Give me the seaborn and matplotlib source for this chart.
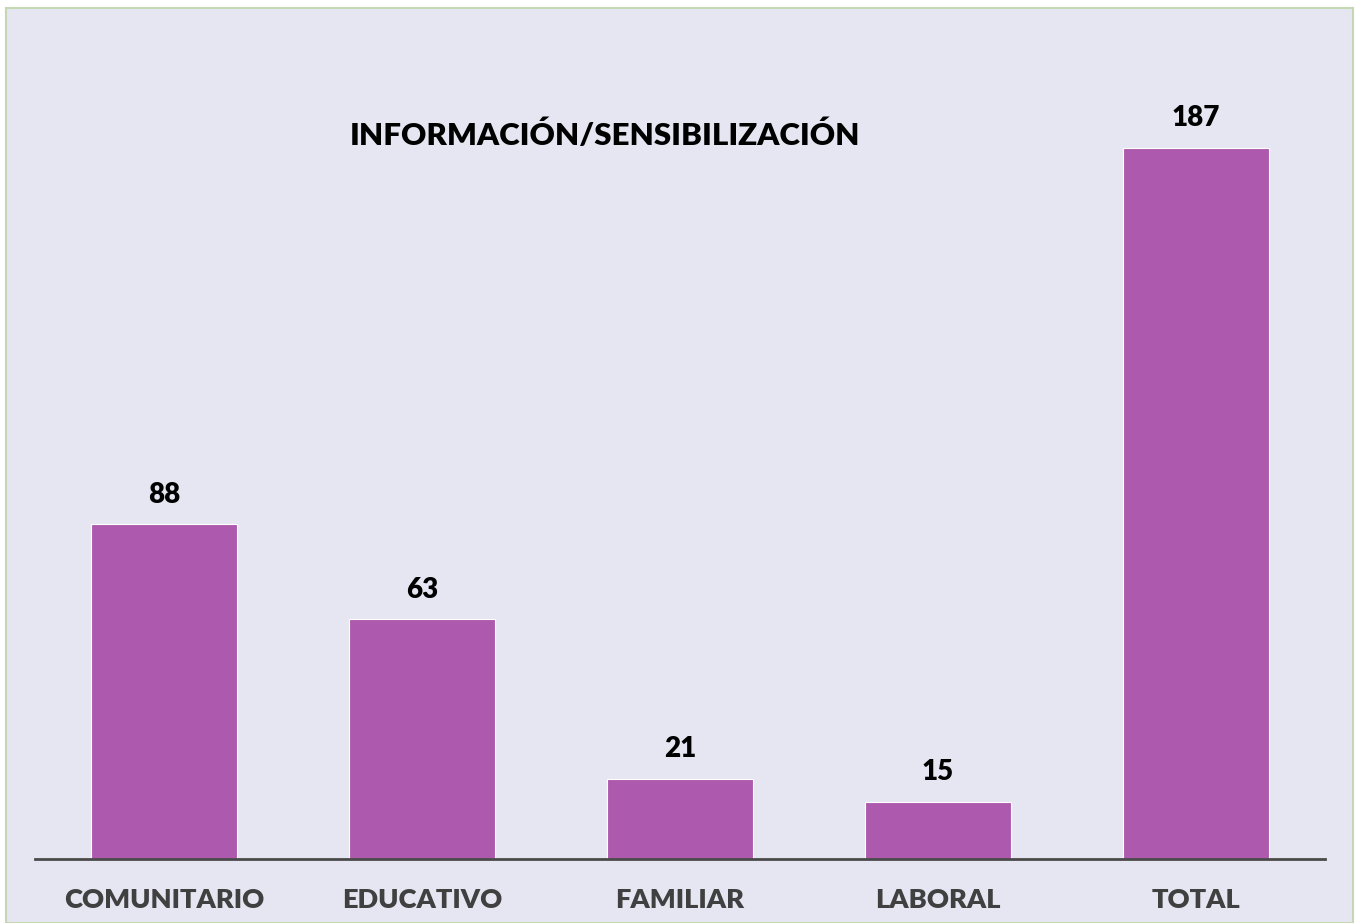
import matplotlib
matplotlib.use("Agg")
import matplotlib.pyplot as plt
from matplotlib.patches import Rectangle
import seaborn as sns
import pandas as pd

categories = ["COMUNITARIO", "EDUCATIVO", "FAMILIAR", "LABORAL", "TOTAL"]
values = [88, 63, 21, 15, 187]
title = "INFORMACIÓN/SENSIBILIZACIÓN"

bg = "#E6E6F2"
bar_color = "#AD59AD"

sns.set_theme(style="white")
plt.rcParams["font.family"] = ["Lato", "DejaVu Sans"]

W, H = 1356, 923
fig = plt.figure(figsize=(W / 100, H / 100), dpi=100)
fig.patch.set_facecolor("white")

# chart area panel with thin green border
fig.patches.append(Rectangle((6 / W, 0), (1353 - 6) / W, (H - 8) / H,
                             transform=fig.transFigure, facecolor=bg,
                             edgecolor="#C4D8B4", linewidth=1.5, zorder=-5))

ax = fig.add_axes([35 / W, (H - 859) / H, 1290 / W, 760.4 / H])
ax.set_zorder(2)
ax.set_facecolor("none")

df = pd.DataFrame({"cat": categories, "val": values})
sns.barplot(data=df, x="cat", y="val", color=bar_color, saturation=1,
            width=0.566, edgecolor="white", linewidth=0.8, ax=ax)

ax.set_xlim(-0.5, len(categories) - 0.5)
ax.set_ylim(0, 200)
ax.set_xlabel("")
ax.set_ylabel("")
ax.set_yticks([])
for s in ["top", "right", "left"]:
    ax.spines[s].set_visible(False)
ax.spines["bottom"].set_color("#4A4A4A")
ax.spines["bottom"].set_linewidth(2)

ax.set_xticks(range(len(categories)))
ax.set_xticklabels(categories, fontsize=19.6, fontweight="heavy", color="#404040")
ax.tick_params(axis="x", length=0, pad=21)

for i, v in enumerate(values):
    ax.annotate(str(v), (i, v), xytext=(0, 12), textcoords="offset points",
                ha="center", va="bottom", fontsize=20, fontweight="heavy",
                color="black")

fig.text(605 / W, 1 - 135 / H, title, ha="center", va="center",
         fontsize=22.5, fontweight="heavy", color="black", zorder=3)

fig.savefig("out.png", dpi=100, facecolor=fig.get_facecolor())
